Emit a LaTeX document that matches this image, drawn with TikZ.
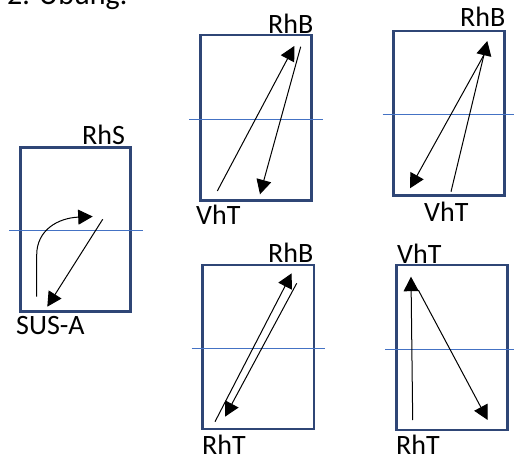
\documentclass[tikz,border=0pt]{standalone}
\usepackage{fontspec}
\setmainfont{Carlito}
\usetikzlibrary{arrows.meta}
\definecolor{boxblue}{HTML}{2F4676}
\definecolor{lineblue}{HTML}{4472C4}
\begin{document}
\begin{tikzpicture}[x=1pt,y=-1pt,
  frame/.style={draw=boxblue,line width=2.7pt},
  axis/.style={draw=lineblue,line width=1pt},
  mv/.style={draw=black,line width=1pt,-{Triangle[length=14.5pt,width=15pt]}},
  lbl/.style={inner sep=0pt,anchor=base west,font=\fontsize{28}{30}\selectfont}]
\useasboundingbox (0,0) rectangle (514,457);
% title (cut off at top)
\node[lbl,font=\fontsize{30}{32}\selectfont] (title) at (7,5) {2. Übung:};
% frames
\draw[frame] (20.7,147.3) rectangle (130.7,311.7);
\draw[frame] (200.7,35) rectangle (311.7,200.7);
\draw[frame] (393.3,31) rectangle (504.3,195.7);
\draw[frame] (202.7,265) rectangle (314,429);
\draw[frame] (396.7,265) rectangle (507.7,430);
% horizontal lines
\draw[axis] (9,230.7) -- (143,230.7);
\draw[axis] (189,119.3) -- (322.7,119.3);
\draw[axis] (382.7,115) -- (514,115);
\draw[axis] (191.7,348.3) -- (325,348.3);
\draw[axis] (385,349.3) -- (514,349.3);
% labels
\node[lbl] (rhs) at (82,145) {RhS};
\node[lbl] (susa) at (16,334.3) {SUS-A};
\node[lbl] (rhb2) at (268,33.3) {RhB};
\node[lbl] (vht2) at (196,224.3) {VhT};
\node[lbl] (rhb3) at (460,27) {RhB};
\node[lbl] (vht3) at (424,222) {VhT};
\node[lbl] (rhb4) at (268,262.7) {RhB};
\node[lbl] (rht4) at (202,454.5) {RhT};
\node[lbl] (vht5) at (397,263) {VhT};
\node[lbl] (rht5) at (396,454.5) {RhT};
% box 1
\coordinate (c1s) at (36.7,296.7);
\coordinate (c1m) at (36.7,255);
\coordinate (c1e) at (92.7,216.5);
\draw[mv] (c1s) -- (c1m) .. controls (36.7,230) and (58,218) .. (c1e);
\coordinate (s1a) at (102.7,219.3);
\coordinate (s1b) at (47.3,306.7);
\draw[mv] (s1a) -- (s1b);
% box 2
\coordinate (b2a) at (217.3,191);
\coordinate (b2b) at (294.3,46);
\coordinate (b2c) at (300.7,46.7);
\coordinate (b2d) at (260,194.3);
\draw[mv] (b2a) -- (b2b);
\draw[mv] (b2c) -- (b2d);
% box 3
\coordinate (b3a) at (451,191.7);
\coordinate (b3b) at (487.3,41);
\coordinate (b3c) at (485,53);
\coordinate (b3d) at (410,188.3);
\draw[mv] (b3a) -- (b3b);
\draw[mv] (b3c) -- (b3d);
% box 4
\coordinate (b4a) at (215,421.7);
\coordinate (b4b) at (291.7,273.3);
\coordinate (b4c) at (296.7,283.3);
\coordinate (b4d) at (225,416.7);
\draw[mv] (b4a) -- (b4b);
\draw[mv] (b4c) -- (b4d);
% box 5
\coordinate (b5a) at (412.7,420);
\coordinate (b5b) at (411,276.7);
\coordinate (b5c) at (418.3,290);
\coordinate (b5d) at (487.7,420);
\draw[mv] (b5a) -- (b5b);
\draw[mv] (b5c) -- (b5d);
\end{tikzpicture}
\end{document}
